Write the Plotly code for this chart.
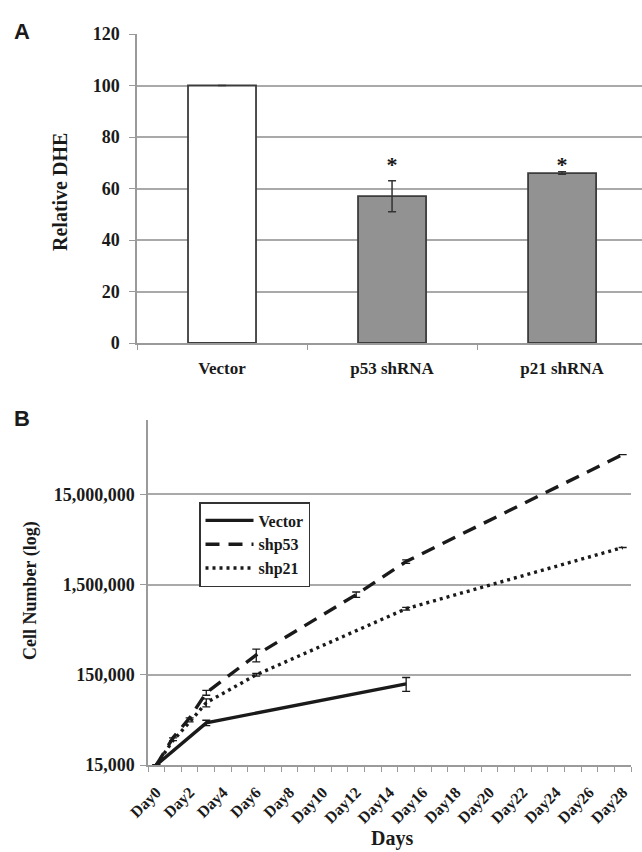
import plotly.graph_objects as go

# ---------------- Panel A data ----------------
groups = ["Vector", "p53 shRNA", "p21 shRNA"]
dhe_values = [100, 57, 66]
dhe_errors = [0, 6, 0.5]
dhe_significant = [False, True, True]
bar_fills = ["#ffffff", "#929292", "#929292"]
a_ticks = [0, 20, 40, 60, 80, 100, 120]

# ---------------- Panel B data ----------------
day_labels = ["Day%d" % d for d in range(0, 29, 2)]
day_labels_vals = list(range(0, 29, 2))

vector_days = [0, 3, 15]
vector_cells = [15000, 44000, 119000]
vector_err = [0, 3000, 21000]

shp53_days = [0, 1, 2, 3, 6, 12, 15, 28]
shp53_cells = [15000, 30000, 50000, 95000, 249000, 1160000, 2700000, 41400000]
shp53_err = [0, 0, 0, 6000, 40000, 80000, 120000, 0]

shp21_days = [0, 1, 2, 3, 6, 15, 28]
shp21_cells = [15000, 28000, 45000, 73500, 150000, 810000, 3860000]
shp21_err = [0, 0, 0, 7500, 5000, 30000, 0]

b_tickvals = [15000, 150000, 1500000, 15000000]
b_ticktext = ["15,000", "150,000", "1,500,000", "15,000,000"]

W, H = 642, 852
SERIF = "Liberation Serif"
SANS = "Liberation Sans"
GRID = "#a9a9a9"
AXIS = "#9a9a9a"
INK = "#1a1a1a"


def px_x(p):
    return p / W


def px_y(p):
    return 1 - p / H


fig = go.Figure()

# Bars
fig.add_trace(go.Bar(
    x=groups, y=dhe_values, width=0.4,
    marker=dict(color=bar_fills, line=dict(color="#3c3c3c", width=1.8)),
    error_y=dict(type="data", array=dhe_errors, visible=True,
                 color="#333333", thickness=1.5, width=4),
    xaxis="x", yaxis="y", showlegend=False, hoverinfo="skip",
))

# significance stars: one common level just above the tallest significant bar + error
star_x = [g for g, s in zip(groups, dhe_significant) if s]
star_level = max(v + e for v, e, s in zip(dhe_values, dhe_errors, dhe_significant) if s) + 2
fig.add_trace(go.Scatter(
    x=star_x, y=[star_level] * len(star_x), mode="text", text=["*"] * len(star_x),
    textposition="middle center",
    textfont=dict(family=SERIF, size=22, color=INK, weight="bold"),
    xaxis="x", yaxis="y", showlegend=False, hoverinfo="skip",
))

# Lines
common = dict(mode="lines", xaxis="x2", yaxis="y2", hoverinfo="skip")
fig.add_trace(go.Scatter(
    x=vector_days, y=vector_cells, name="Vector",
    line=dict(color=INK, width=3.4),
    error_y=dict(type="data", array=vector_err, visible=True,
                 color=INK, thickness=1.3, width=4),
    **common))
fig.add_trace(go.Scatter(
    x=shp53_days, y=shp53_cells, name="shp53",
    line=dict(color=INK, width=3.4, dash="14px,9px"),
    error_y=dict(type="data", array=shp53_err, visible=True,
                 color=INK, thickness=1.3, width=4),
    **common))
fig.add_trace(go.Scatter(
    x=shp21_days, y=shp21_cells, name="shp21",
    line=dict(color=INK, width=3.4, dash="3px,4px"),
    error_y=dict(type="data", array=shp21_err, visible=True,
                 color=INK, thickness=1.3, width=4),
    **common))

numfont = dict(family=SERIF, size=18, color=INK, weight="bold")
catfont = dict(family=SERIF, size=17, color=INK, weight="bold")

fig.update_layout(
    width=W, height=H,
    margin=dict(l=0, r=0, t=0, b=0),
    paper_bgcolor="white", plot_bgcolor="white",
    xaxis=dict(
        domain=[px_x(137), 1.0], anchor="y", automargin=False,
        type="category", range=[-0.5, 2.47],
        showline=True, linecolor=AXIS, linewidth=1.5,
        ticks="outside", tickson="boundaries", ticklen=5, tickcolor=AXIS,
        showgrid=False, tickfont=catfont, ticklabelstandoff=9,
        zeroline=False,
    ),
    yaxis=dict(
        domain=[px_y(343), px_y(34)], anchor="x", automargin=False,
        range=[0, 120], tickvals=a_ticks,
        showline=True, linecolor=AXIS, linewidth=1.5,
        ticks="outside", ticklen=6, tickcolor=AXIS,
        showgrid=True, gridcolor=GRID, gridwidth=1.5,
        zeroline=False, tickfont=numfont, ticklabelstandoff=6,
    ),
    xaxis2=dict(
        domain=[px_x(148), px_x(631)], anchor="y2", automargin=False,
        range=[-0.5, 28.5],
        tickmode="array", tickvals=day_labels_vals, ticktext=day_labels,
        tickangle=-45, ticks="", showgrid=False, zeroline=False,
        showline=True, linecolor=AXIS, linewidth=1.5,
        tickfont=dict(family=SERIF, size=16, color=INK, weight="bold"),
        ticklabelstandoff=10,
        minor=dict(tickmode="array",
                   tickvals=[k - 0.5 for k in range(30)],
                   ticks="outside", ticklen=5, tickcolor=AXIS, tickwidth=1.2,
                   showgrid=False),
    ),
    yaxis2=dict(
        domain=[px_y(765), px_y(420)], anchor="x2", automargin=False,
        type="log", range=[4.1761, 8.0],
        tickmode="array", tickvals=b_tickvals, ticktext=b_ticktext,
        showline=True, linecolor=AXIS, linewidth=1.5,
        ticks="outside", ticklen=6, tickcolor=AXIS,
        showgrid=True, gridcolor=GRID, gridwidth=1.5, zeroline=False,
        tickfont=numfont, ticklabelstandoff=2,
    ),
    legend=dict(
        x=px_x(199), y=px_y(502), xanchor="left", yanchor="top",
        bgcolor="white", bordercolor="#333333", borderwidth=1.5,
        font=dict(family=SERIF, size=16, color=INK, weight="bold"),
        tracegroupgap=0, itemwidth=48,
    ),
    annotations=[
        dict(text="A", x=px_x(22), y=px_y(32), xref="paper", yref="paper",
             xanchor="center", yanchor="middle", showarrow=False,
             font=dict(family=SANS, size=22, color=INK, weight="bold")),
        dict(text="B", x=px_x(22), y=px_y(418), xref="paper", yref="paper",
             xanchor="center", yanchor="middle", showarrow=False,
             font=dict(family=SANS, size=22, color=INK, weight="bold")),
        dict(text="Relative DHE", x=px_x(60), y=px_y(192), xref="paper", yref="paper",
             xanchor="center", yanchor="middle", textangle=-90, showarrow=False,
             font=dict(family=SERIF, size=20, color=INK, weight="bold")),
        dict(text="Cell Number (log)", x=px_x(30), y=px_y(591), xref="paper", yref="paper",
             xanchor="center", yanchor="middle", textangle=-90, showarrow=False,
             font=dict(family=SERIF, size=18, color=INK, weight="bold")),
        dict(text="Days", x=px_x(392), y=px_y(838), xref="paper", yref="paper",
             xanchor="center", yanchor="middle", showarrow=False,
             font=dict(family=SERIF, size=20, color=INK, weight="bold")),
    ],
)

fig.write_html("out.html")
